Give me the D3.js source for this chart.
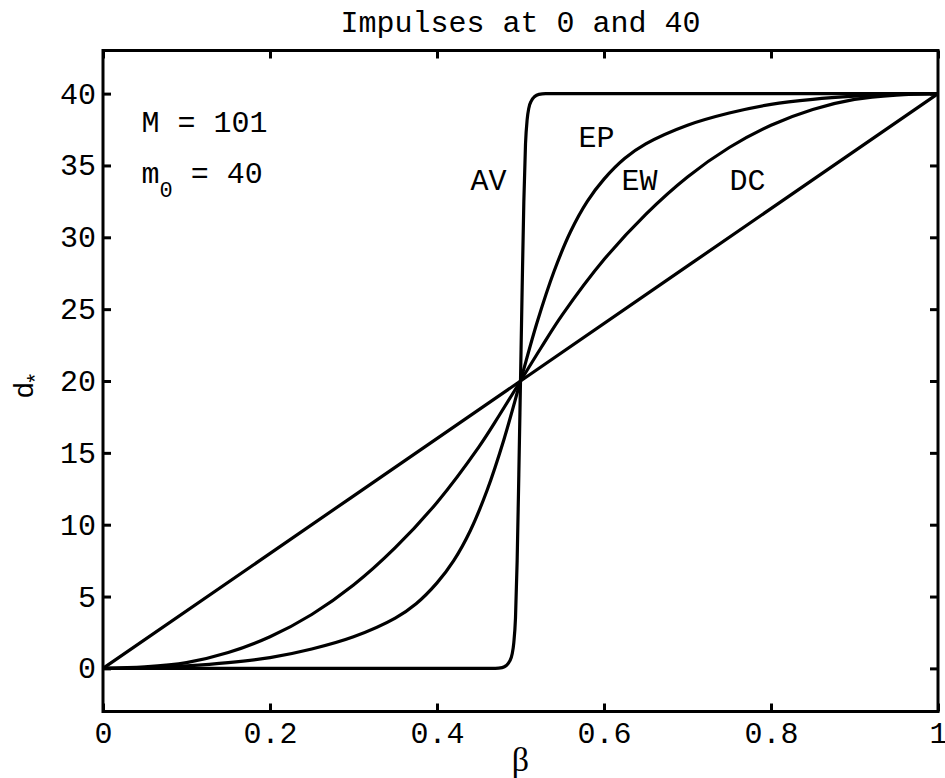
<!DOCTYPE html>
<html>
<head>
<meta charset="utf-8">
<script src="https://cdn.jsdelivr.net/npm/d3@7"></script>
<style>
  html, body { margin: 0; padding: 0; background: #fff; }
  svg { display: block; }
  text { white-space: pre; }
</style>
</head>
<body>
<div id="chart"></div>
<script>
// Optimal displacement d* versus beta for four estimators (impulses at 0 and 40)
const xTicks = [0, 0.2, 0.4, 0.6, 0.8, 1];
const xTickLabels = ["0", "0.2", "0.4", "0.6", "0.8", "1"];
const yTicks = [0, 5, 10, 15, 20, 25, 30, 35, 40];
const yTickLabels = ["0", "5", "10", "15", "20", "25", "30", "35", "40"];

// DC: straight line
const dcBeta = [0, 0.5, 1];
const dcD = [0, 20, 40];

// EW
const ewBeta = [0, 0.05, 0.1, 0.15, 0.2, 0.25, 0.3, 0.35, 0.4, 0.45, 0.475, 0.5,
                0.525, 0.55, 0.6, 0.65, 0.7, 0.75, 0.8, 0.85, 0.9, 0.95, 1];
const ewD = [0, 0.1, 0.4, 1.1, 2.2, 3.75, 5.8, 8.4, 11.55, 15.4, 17.65, 20,
             22.35, 24.6, 28.45, 31.6, 34.2, 36.25, 37.8, 38.9, 39.6, 39.9, 40];

// EP
const epBeta = [0, 0.05, 0.1, 0.15, 0.2, 0.25, 0.3, 0.35, 0.375, 0.4, 0.42, 0.44, 0.46, 0.48, 0.5,
                0.52, 0.54, 0.56, 0.58, 0.6, 0.625, 0.65, 0.7, 0.75, 0.8, 0.85, 0.9, 0.95, 1];
const epD = [0, 0.05, 0.18, 0.4, 0.75, 1.35, 2.2, 3.5, 4.5, 5.95, 7.5, 9.6, 12.4, 15.9, 20,
             24.1, 27.6, 30.4, 32.5, 34.05, 35.5, 36.5, 37.8, 38.65, 39.25, 39.6, 39.82, 39.95, 40];

// AV: nearly a step at beta = 0.5
const avBeta = [0, 0.47, 0.478, 0.483, 0.487, 0.49, 0.492, 0.494, 0.496, 0.498, 0.5,
                0.502, 0.504, 0.506, 0.508, 0.51, 0.513, 0.517, 0.522, 0.53, 1];
const avD = [0, 0, 0.05, 0.2, 0.5, 1.0, 1.8, 3.5, 7.5, 13.5, 20,
             26.5, 32.5, 36.5, 38.2, 39.0, 39.5, 39.8, 39.95, 40, 40];

const seriesNames = ["DC", "EW", "EP", "AV"];
const seriesBeta = [dcBeta, ewBeta, epBeta, avBeta];
const seriesD = [dcD, ewD, epD, avD];

// Curve labels in data coordinates (centre x, baseline y)
const curveLabels = ["AV", "EP", "EW", "DC"];
const curveLabelX = [0.4617, 0.591, 0.6425, 0.7719];
const curveLabelY = [33.3, 36.3, 33.3, 33.3];

const W = 945, H = 778;
const margin = { left: 103, right: 7, top: 50.5, bottom: 66.5 };
const monoFont = "'Liberation Mono', 'Courier New', monospace";

const svg = d3.select("#chart").append("svg")
  .attr("width", W).attr("height", H)
  .attr("viewBox", `0 0 ${W} ${H}`);

const x = d3.scaleLinear().domain([0, 1]).range([margin.left, W - margin.right]);
const y = d3.scaleLinear().domain([-3, 43]).range([H - margin.bottom, margin.top]);

// Curves: smooth spline through the sampled points; the near-step AV
// uses a monotone spline so its corners do not overshoot.
const smoothLine = d3.line()
  .x(d => x(d[0]))
  .y(d => y(d[1]))
  .curve(d3.curveCatmullRom.alpha(0.5));
const stepLine = d3.line()
  .x(d => x(d[0]))
  .y(d => y(d[1]))
  .curve(d3.curveMonotoneX);

const plot = svg.append("g");
seriesNames.forEach((name, i) => {
  const pts = seriesBeta[i].map((b, j) => [b, seriesD[i][j]]);
  plot.append("path")
    .datum(pts)
    .attr("class", "series " + name)
    .attr("fill", "none")
    .attr("stroke", "#000")
    .attr("stroke-width", 3.2)
    .attr("stroke-linejoin", "round")
    .attr("d", name === "AV" ? stepLine : smoothLine);
});

// Axes (ticks pointing inward on all four sides)
const tickLen = 8;
const gBottom = svg.append("g")
  .attr("transform", `translate(0,${y(-3)})`)
  .call(d3.axisBottom(x).tickValues(xTicks)
    .tickFormat((d, i) => xTickLabels[i]).tickSize(-tickLen).tickPadding(0));
gBottom.selectAll("text").attr("y", 31).attr("dy", 0);

const gTop = svg.append("g")
  .attr("transform", `translate(0,${y(43)})`)
  .call(d3.axisTop(x).tickValues(xTicks).tickFormat("").tickSize(-tickLen));

const gLeft = svg.append("g")
  .attr("transform", `translate(${x(0)},0)`)
  .call(d3.axisLeft(y).tickValues(yTicks)
    .tickFormat((d, i) => yTickLabels[i]).tickSize(-tickLen).tickPadding(0));
gLeft.selectAll("text").attr("x", -7).attr("dy", 0).attr("y", 9.5);

const gRight = svg.append("g")
  .attr("transform", `translate(${x(1)},0)`)
  .call(d3.axisRight(y).tickValues(yTicks).tickFormat("").tickSize(-tickLen));

[gBottom, gTop, gLeft, gRight].forEach(g => {
  g.select(".domain").remove();
  g.selectAll(".tick line").attr("stroke", "#000").attr("stroke-width", 3);
  g.selectAll("text")
    .attr("fill", "#000")
    .style("font-family", monoFont)
    .style("font-size", "30px");
});

// Box
svg.append("rect")
  .attr("x", x(0)).attr("y", y(43))
  .attr("width", x(1) - x(0)).attr("height", y(-3) - y(43))
  .attr("fill", "none").attr("stroke", "#000").attr("stroke-width", 3);

// Title
svg.append("text")
  .attr("x", (x(0) + x(1)) / 2).attr("y", 32)
  .attr("text-anchor", "middle")
  .style("font-family", monoFont).style("font-size", "30px")
  .text("Impulses at 0 and 40");

// Axis labels
svg.append("text")
  .attr("x", (x(0) + x(1)) / 2).attr("y", 771)
  .attr("text-anchor", "middle")
  .style("font-family", "'Liberation Serif', 'DejaVu Serif', serif")
  .style("font-size", "34px")
  .text("β");

const yl = svg.append("text")
  .attr("transform", `translate(33,386) rotate(-90)`)
  .attr("text-anchor", "middle")
  .style("font-family", "'Liberation Sans', Arial, sans-serif")
  .style("font-size", "28px");
yl.append("tspan").text("d");
yl.append("tspan").attr("dy", 9).style("font-size", "22px").text("*");

// Curve labels
curveLabels.forEach((t, i) => {
  svg.append("text")
    .attr("x", x(curveLabelX[i])).attr("y", y(curveLabelY[i]))
    .attr("text-anchor", "middle")
    .style("font-family", monoFont).style("font-size", "30px")
    .text(t);
});

// Parameter annotations
svg.append("text")
  .attr("x", x(0.046)).attr("y", y(37.36))
  .style("font-family", monoFont).style("font-size", "30px")
  .text("M = 101");

const m0 = svg.append("text")
  .attr("x", x(0.046)).attr("y", y(33.8))
  .style("font-family", monoFont).style("font-size", "30px");
m0.append("tspan").text("m");
m0.append("tspan").attr("dy", 14).style("font-size", "22px").text("0");
m0.append("tspan").attr("dy", -14).text(" = 40");
</script>
</body>
</html>
